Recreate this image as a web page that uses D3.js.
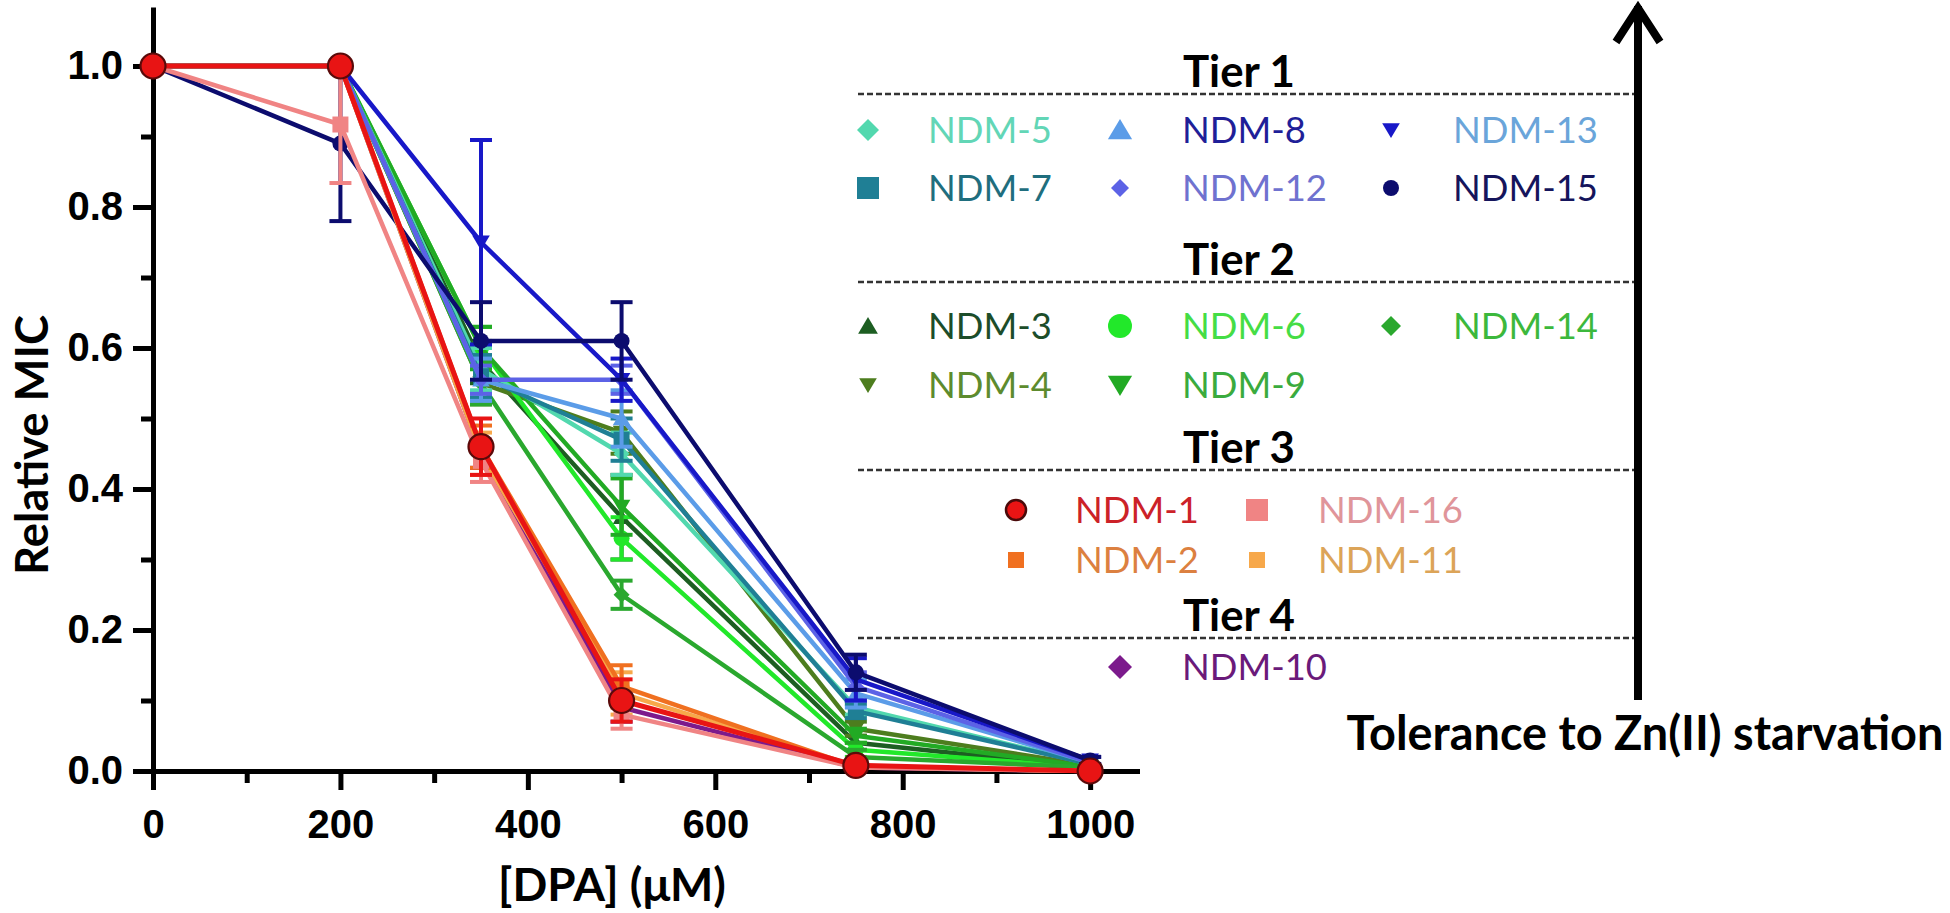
<!DOCTYPE html>
<html><head><meta charset="utf-8">
<script src="https://cdn.jsdelivr.net/npm/d3@7/dist/d3.min.js"></script>
<style>body{margin:0;background:#fff}svg{display:block}</style>
</head><body>
<svg id="c" width="1950" height="913"></svg>
<script>
// ---------------- DATA ----------------
const doses = [0, 200, 350, 500, 750, 1000];           // [DPA] (µM)
const xTicks = [0, 200, 400, 600, 800, 1000];
const xMinorTicks = [100, 300, 500, 700, 900];
const yTicks = [0.0, 0.2, 0.4, 0.6, 0.8, 1.0];
const yMinorTicks = [0.1, 0.3, 0.5, 0.7, 0.9];

// Relative MIC (mean) and SD per variant
const NDM5  = [1, 1, 0.57, 0.45, 0.09, 0.010];   const NDM5_sd  = [0, 0, 0.03, 0.03, 0.01, 0];
const NDM7  = [1, 1, 0.56, 0.47, 0.085, 0.010];  const NDM7_sd  = [0, 0, 0.03, 0.03, 0.01, 0];
const NDM8  = [1, 1, 0.555, 0.50, 0.11, 0.012];  const NDM8_sd  = [0, 0, 0.03, 0.04, 0.02, 0];
const NDM12 = [1, 1, 0.555, 0.555, 0.12, 0.012]; const NDM12_sd = [0, 0, 0.02, 0.02, 0.02, 0];
const NDM13 = [1, 1, 0.75, 0.555, 0.13, 0.015];  const NDM13_sd = [0, 0, 0.145, 0.03, 0.03, 0.005];
const NDM15 = [1, 0.89, 0.61, 0.61, 0.14, 0.015];const NDM15_sd = [0, 0.11, 0.055, 0.055, 0.025, 0.005];
const NDM3  = [1, 1, 0.58, 0.36, 0.04, 0.005];   const NDM3_sd  = [0, 0, 0.03, 0.06, 0.01, 0];
const NDM6  = [1, 1, 0.60, 0.33, 0.03, 0.005];   const NDM6_sd  = [0, 0, 0.03, 0.03, 0.01, 0];
const NDM14 = [1, 1, 0.55, 0.25, 0.02, 0.005];   const NDM14_sd = [0, 0, 0.03, 0.02, 0.01, 0];
const NDM4  = [1, 1, 0.55, 0.48, 0.06, 0.008];   const NDM4_sd  = [0, 0, 0.03, 0.03, 0.01, 0];
const NDM9  = [1, 1, 0.60, 0.375, 0.05, 0.006];  const NDM9_sd  = [0, 0, 0.03, 0.04, 0.01, 0];
const NDM1  = [1, 1, 0.46, 0.10, 0.008, 0];      const NDM1_sd  = [0, 0, 0.04, 0.03, 0.005, 0];
const NDM2  = [1, 1, 0.46, 0.12, 0.006, 0];      const NDM2_sd  = [0, 0, 0.03, 0.03, 0, 0];
const NDM11 = [1, 1, 0.45, 0.11, 0.006, 0];      const NDM11_sd = [0, 0, 0.03, 0.03, 0, 0];
const NDM16 = [1, 0.917, 0.44, 0.08, 0.005, 0];  const NDM16_sd = [0, 0.083, 0.03, 0.02, 0, 0];
const NDM10 = [1, 1, 0.45, 0.09, 0.005, 0];      const NDM10_sd = [0, 0, 0.02, 0.02, 0, 0];

const tierNames = ["Tier 1", "Tier 2", "Tier 3", "Tier 4"];
const tier1 = ["NDM-5", "NDM-8", "NDM-13", "NDM-7", "NDM-12", "NDM-15"];
const tier2 = ["NDM-3", "NDM-6", "NDM-14", "NDM-4", "NDM-9"];
const tier3 = ["NDM-1", "NDM-16", "NDM-2", "NDM-11"];
const tier4 = ["NDM-10"];
const yAxisTitle = "Relative MIC";
const xAxisTitle = "[DPA] (\u03bcM)";
const arrowLabel = "Tolerance to Zn(II) starvation";

// ---------------- BUILD TABLE ----------------
const series = [
  ["NDM-10", NDM10, NDM10_sd], ["NDM-3", NDM3, NDM3_sd], ["NDM-4", NDM4, NDM4_sd],
  ["NDM-6", NDM6, NDM6_sd], ["NDM-9", NDM9, NDM9_sd], ["NDM-14", NDM14, NDM14_sd],
  ["NDM-5", NDM5, NDM5_sd], ["NDM-7", NDM7, NDM7_sd], ["NDM-8", NDM8, NDM8_sd],
  ["NDM-12", NDM12, NDM12_sd], ["NDM-13", NDM13, NDM13_sd], ["NDM-15", NDM15, NDM15_sd],
  ["NDM-11", NDM11, NDM11_sd], ["NDM-2", NDM2, NDM2_sd], ["NDM-16", NDM16, NDM16_sd],
  ["NDM-1", NDM1, NDM1_sd]
].map(([name, v, sd]) => ({name, points: doses.map((d, i) => ({x: d, y: v[i], sd: sd[i]}))}));

// ---------------- STYLES ----------------
const style = {
  "NDM-5":  {c: "#52d8ae", t: "#62d6b6", shape: "diamond",  lr: 11},
  "NDM-7":  {c: "#1f7f95", t: "#1f6e7e", shape: "square",   lr: 11},
  "NDM-8":  {c: "#5b9ce8", t: "#1f1f98", shape: "triangle", lr: 11},
  "NDM-12": {c: "#5c62e6", t: "#6f72cf", shape: "diamond",  lr: 9},
  "NDM-13": {c: "#1818c8", t: "#6aa5da", shape: "tridown",  lr: 8},
  "NDM-15": {c: "#0c0c6e", t: "#15155c", shape: "circle",   lr: 8},
  "NDM-3":  {c: "#1d5e22", t: "#1c4d2a", shape: "triangle", lr: 9},
  "NDM-6":  {c: "#22e82a", t: "#45dd45", shape: "circle",   lr: 12},
  "NDM-14": {c: "#2aa82e", t: "#3cb83c", shape: "diamond",  lr: 10},
  "NDM-4":  {c: "#4d7d1e", t: "#5d8b2e", shape: "tridown",  lr: 8},
  "NDM-9":  {c: "#22aa24", t: "#3aab3e", shape: "tridown",  lr: 11},
  "NDM-1":  {c: "#e81414", t: "#cc2228", shape: "circle",   lr: 10, outline: true},
  "NDM-16": {c: "#f08484", t: "#e0959a", shape: "square",   lr: 11},
  "NDM-2":  {c: "#f07020", t: "#dc8040", shape: "square",   lr: 8},
  "NDM-11": {c: "#f7a84a", t: "#dca458", shape: "square",   lr: 8},
  "NDM-10": {c: "#7c1a8c", t: "#6a1a7a", shape: "diamond",  lr: 12}
};

function shapePath(shape, r) {
  switch (shape) {
    case "circle": return d3.symbol(d3.symbolCircle, Math.PI * r * r)();
    case "square": return `M${-r},${-r}h${2*r}v${2*r}h${-2*r}Z`;
    case "diamond": return `M0,${-r}L${r},0L0,${r}L${-r},0Z`;
    case "triangle": return `M0,${-r}L${r*1.1},${r*0.85}L${-r*1.1},${r*0.85}Z`;
    case "tridown": return `M0,${r}L${r*1.1},${-r*0.85}L${-r*1.1},${-r*0.85}Z`;
  }
}

// ---------------- CHART ----------------
const svg = d3.select("#c");
const x = d3.scaleLinear().domain([0, 1050]).range([153, 1137]);
const y = d3.scaleLinear().domain([0, 1.08]).range([771, 9.6]);
const tickFont = "'Liberation Sans', Arial, sans-serif";
const titleFont = "Lato, 'Open Sans', sans-serif";

// axes
const gx = svg.append("g").attr("transform", "translate(0,771)")
  .call(d3.axisBottom(x).tickValues(xTicks).tickFormat(d3.format("d")).tickSize(19).tickSizeOuter(0).tickPadding(20));
const gxm = svg.append("g").attr("transform", "translate(0,771)")
  .call(d3.axisBottom(x).tickValues(xMinorTicks).tickFormat("").tickSize(12).tickSizeOuter(0));
const gy = svg.append("g").attr("transform", "translate(153,0)")
  .call(d3.axisLeft(y).tickValues(yTicks).tickFormat(d3.format(".1f")).tickSize(20).tickSizeOuter(0).tickPadding(10));
const gym = svg.append("g").attr("transform", "translate(153,0)")
  .call(d3.axisLeft(y).tickValues(yMinorTicks).tickFormat("").tickSize(12).tickSizeOuter(0));
[gx, gxm, gy, gym].forEach(g => {
  g.selectAll("path.domain").attr("stroke", "#000").attr("stroke-width", 5).attr("stroke-linecap", "square");
  g.selectAll(".tick line").attr("stroke", "#000").attr("stroke-width", 5);
  g.selectAll(".tick text").attr("fill", "#000").style("font-family", tickFont)
    .style("font-size", "40px").style("font-weight", "bold");
});
gxm.select("path.domain").remove();
gym.select("path.domain").remove();

function fit(sel, target) {
  sel.style("font-size", "100px");
  const w = sel.node().getComputedTextLength();
  sel.style("font-size", (100 * target / w) + "px");
}

// axis titles
const yt = svg.append("text").text(yAxisTitle)
  .attr("transform", "translate(48,445) rotate(-90)").attr("text-anchor", "middle")
  .style("font-family", titleFont).style("font-weight", "bold").attr("fill", "#000");
fit(yt, 260);
const xt = svg.append("text").text(xAxisTitle).attr("x", 612).attr("y", 901).attr("text-anchor", "middle")
  .style("font-family", titleFont).style("font-weight", "bold").attr("fill", "#000");
fit(xt, 228);

// series
const line = d3.line().x(d => x(d.x)).y(d => y(d.y));
const plot = svg.append("g");
series.forEach(s => {
  const st = style[s.name];
  const g = plot.append("g");
  g.append("path").datum(s.points).attr("d", line).attr("fill", "none")
    .attr("stroke", st.c).attr("stroke-width", st.outline ? 5 : 4.5).attr("stroke-linejoin", "round");
  const eb = g.selectAll("g.eb").data(s.points.filter(p => p.sd > 0)).join("g");
  eb.append("line").attr("x1", p => x(p.x)).attr("x2", p => x(p.x))
    .attr("y1", p => y(p.y - p.sd)).attr("y2", p => y(p.y + p.sd)).attr("stroke", st.c).attr("stroke-width", 4);
  [-1, 1].forEach(k => eb.append("line")
    .attr("x1", p => x(p.x) - 11).attr("x2", p => x(p.x) + 11)
    .attr("y1", p => y(p.y + k * p.sd)).attr("y2", p => y(p.y + k * p.sd))
    .attr("stroke", st.c).attr("stroke-width", 4));
  g.selectAll("path.mk").data(s.points).join("path").attr("class", "mk")
    .attr("transform", p => `translate(${x(p.x)},${y(p.y)})`)
    .attr("d", shapePath(st.shape, st.outline ? 12.5 : 8))
    .attr("fill", st.c).attr("stroke", st.outline ? "#5a0a0a" : "none").attr("stroke-width", 2.2);
});

// ---------------- LEGEND ----------------
const legendFont = titleFont;
const lineYs = [94, 282, 470, 638];
const cols = {c1: [868, 928], c2: [1120, 1182], c3: [1391, 1453], cA: [1016, 1075], cB: [1257, 1318]};
const rowY = [130, 188, 326, 385, 510, 560, 667];
const placement = [
  [tier1[0], "c1", 0], [tier1[1], "c2", 0], [tier1[2], "c3", 0],
  [tier1[3], "c1", 1], [tier1[4], "c2", 1], [tier1[5], "c3", 1],
  [tier2[0], "c1", 2], [tier2[1], "c2", 2], [tier2[2], "c3", 2],
  [tier2[3], "c1", 3], [tier2[4], "c2", 3],
  [tier3[0], "cA", 4], [tier3[1], "cB", 4], [tier3[2], "cA", 5], [tier3[3], "cB", 5],
  [tier4[0], "c2", 6]
];
const leg = svg.append("g");
lineYs.forEach((ly, i) => {
  leg.append("line").attr("x1", 858).attr("x2", 1636).attr("y1", ly).attr("y2", ly)
    .attr("stroke", "#333").attr("stroke-width", 2.5).attr("stroke-dasharray", "6,3");
  const t = leg.append("text").text(tierNames[i]).attr("x", 1239).attr("y", ly - 7)
    .attr("text-anchor", "middle").style("font-family", legendFont).style("font-weight", "bold").attr("fill", "#000");
  fit(t, 112);
});
// size legend labels using the widest label
const probe = leg.append("text").text("NDM-13").style("font-family", legendFont);
fit(probe, 145);
const legSize = probe.style("font-size");
probe.remove();
placement.forEach(([name, col, r]) => {
  const st = style[name];
  const [mx, tx] = cols[col];
  const cy = rowY[r];
  leg.append("path").attr("transform", `translate(${mx},${cy})`).attr("d", shapePath(st.shape, st.lr))
    .attr("fill", st.c).attr("stroke", st.outline ? "#4a0a0a" : "none").attr("stroke-width", 2.5);
  leg.append("text").text(name).attr("x", tx).attr("y", cy).attr("dy", "0.36em")
    .style("font-family", legendFont).style("font-size", legSize).attr("fill", st.t);
});

// arrow
const arr = svg.append("g").attr("stroke", "#000").attr("fill", "none");
arr.append("line").attr("x1", 1638).attr("x2", 1638).attr("y1", 700).attr("y2", 6).attr("stroke-width", 8);
arr.append("path").attr("d", "M1616,42L1638,8L1660,42").attr("stroke-width", 8).attr("stroke-linejoin", "miter");
const at = svg.append("text").text(arrowLabel).attr("x", 1645).attr("y", 750).attr("text-anchor", "middle")
  .style("font-family", titleFont).style("font-weight", "bold").attr("fill", "#000");
fit(at, 597);
</script>
</body></html>
